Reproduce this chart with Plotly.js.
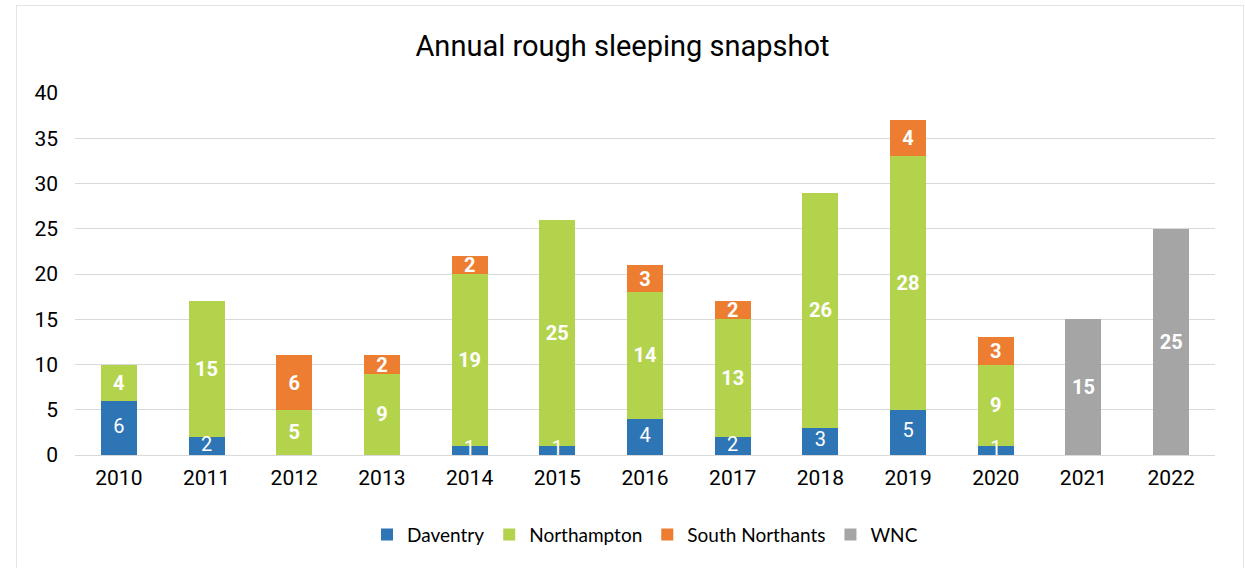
<!DOCTYPE html>
<html>
<head>
<meta charset="utf-8">
<script src="https://cdn.plot.ly/plotly-3.0.1.min.js"></script>
<style>
html,body{margin:0;padding:0;background:#fff;}
#chart{width:1245px;height:568px;}
#frame{position:absolute;left:16px;top:5px;width:1226px;height:600px;border:1px solid #e3e3e3;pointer-events:none;}
</style>
</head>
<body>
<div id="chart"></div>
<div id="frame"></div>
<script>
const years = ['2010','2011','2012','2013','2014','2015','2016','2017','2018','2019','2020','2021','2022'];
const daventry    = [6, 2, 0, 0, 1, 1, 4, 2, 3, 5, 1, 0, 0];
const northampton = [4, 15, 5, 9, 19, 25, 14, 13, 26, 28, 9, 0, 0];
const southNorthants = [0, 0, 6, 2, 2, 0, 3, 2, 0, 4, 3, 0, 0];
const wnc         = [0, 0, 0, 0, 0, 0, 0, 0, 0, 0, 0, 15, 25];

const labelText = arr => arr.map(v => v ? String(v) : '');

function series(name, vals, color, bold, withText) {
  return {
    type: 'bar', name: name, x: years, y: vals,
    marker: {color: color},
    text: withText ? labelText(vals) : undefined,
    textposition: withText ? 'inside' : 'none',
    insidetextanchor: 'middle',
    textangle: 0,
    constraintext: 'none',
    textfont: {family: 'Roboto, sans-serif', size: 20, color: '#ffffff', weight: bold ? 'bold' : 'normal'},
    hoverinfo: 'x+y+name'
  };
}

// Daventry labels drawn on top so that small segments' labels overflow visibly
const daventryLabels = {
  type: 'scatter', mode: 'text', x: years,
  y: daventry.map(v => v / 2),
  text: labelText(daventry),
  textposition: 'middle center',
  textfont: {family: 'Roboto, sans-serif', size: 20, color: '#ffffff'},
  showlegend: false, hoverinfo: 'skip', cliponaxis: false
};

const data = [
  series('Daventry', daventry, '#2E75B6', false, false),
  series('Northampton', northampton, '#B4D34D', true, true),
  series('South Northants', southNorthants, '#ED7D31', true, true),
  series('WNC', wnc, '#A5A5A5', true, true),
  daventryLabels
];

const layout = {
  width: 1245, height: 568,
  barmode: 'stack',
  bargap: 0.59,
  paper_bgcolor: '#ffffff', plot_bgcolor: '#ffffff',
  margin: {l: 75, r: 30, t: 93, b: 113},
  title: {text: 'Annual rough sleeping snapshot', font: {family: 'Roboto, sans-serif', size: 29, color: '#000000'}, x: 0.5, xanchor: 'center', y: 0.92, yanchor: 'middle'},
  xaxis: {
    type: 'category',
    range: [-0.5, years.length - 0.5],
    tickfont: {family: 'Roboto, sans-serif', size: 21, color: '#000000'},
    showline: true, linecolor: '#d9d9d9', linewidth: 1,
    ticks: '', showgrid: false, ticklabelstandoff: 4
  },
  yaxis: {
    range: [0, 40], dtick: 5,
    tickfont: {family: 'Roboto, sans-serif', size: 21, color: '#000000'},
    showgrid: true, gridcolor: '#d9d9d9', gridwidth: 1,
    zeroline: true, zerolinecolor: '#d9d9d9',
    showline: false, ticks: '', ticklen: 0, ticklabelstandoff: 16
  },
  legend: {
    orientation: 'h', x: 0.5, xanchor: 'center', y: -0.22, yanchor: 'middle',
    font: {family: 'Lato, sans-serif', size: 19, color: '#000000'},
    traceorder: 'normal', itemwidth: 30
  },
  showlegend: true
};

Plotly.newPlot('chart', data, layout, {displayModeBar: false, staticPlot: true});
</script>
</body>
</html>
